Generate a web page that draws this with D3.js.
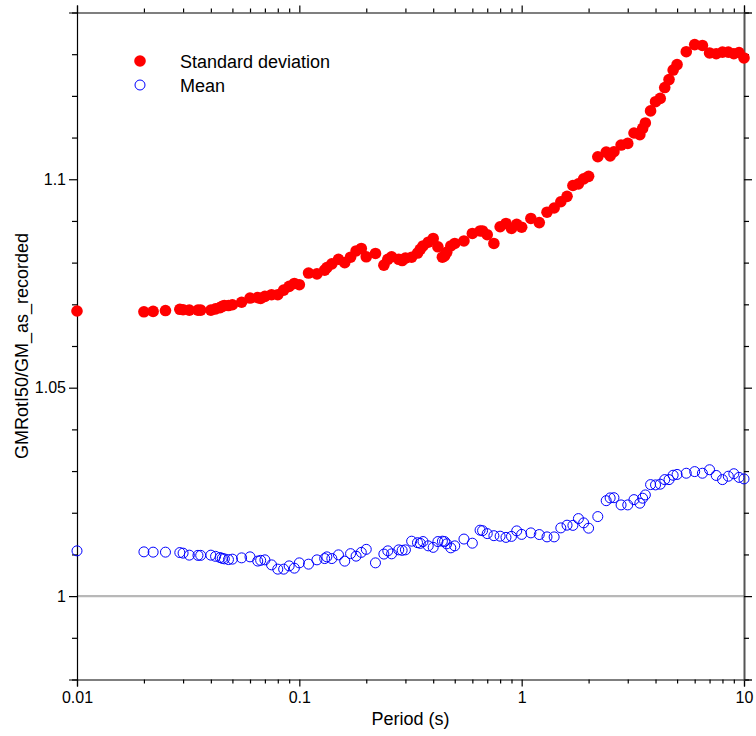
<!DOCTYPE html>
<html>
<head>
<meta charset="utf-8">
<script src="https://cdn.jsdelivr.net/npm/d3@7"></script>
<style>
  html, body { margin: 0; padding: 0; background: #fff; }
  svg { display: block; font-family: "Liberation Sans", Arial, Helvetica, sans-serif; }
</style>
</head>
<body>
<svg id="chart" width="756" height="736"></svg>
<script>
// Spectral periods (s)
const periods = [0.01, 0.02, 0.022, 0.025, 0.029, 0.03, 0.032, 0.035, 0.036, 0.04, 0.042, 0.044, 0.045, 0.046, 0.048, 0.05,
  0.055, 0.06, 0.065, 0.067, 0.07, 0.075, 0.08, 0.085, 0.09, 0.095, 0.1, 0.11, 0.12, 0.13, 0.133, 0.14, 0.15, 0.16, 0.17,
  0.18, 0.19, 0.2, 0.22, 0.24, 0.25, 0.26, 0.28, 0.29, 0.3, 0.32, 0.34, 0.35, 0.36, 0.38, 0.4, 0.42, 0.44, 0.45, 0.46,
  0.48, 0.5, 0.55, 0.6, 0.65, 0.667, 0.7, 0.75, 0.8, 0.85, 0.9, 0.95, 1, 1.1, 1.2, 1.3, 1.4, 1.5, 1.6, 1.7, 1.8, 1.9, 2,
  2.2, 2.4, 2.5, 2.6, 2.8, 3, 3.2, 3.4, 3.5, 3.6, 3.8, 4, 4.2, 4.4, 4.6, 4.8, 5, 5.5, 6, 6.5, 7, 7.5, 8, 8.5, 9, 9.5, 10];

// Standard deviation of the ratio at each period
const stdDev = [1.0684, 1.0682, 1.0683, 1.0685, 1.0688, 1.0687, 1.0686, 1.0686, 1.0686, 1.0686, 1.0689, 1.0692, 1.0695,
  1.0697, 1.0697, 1.0699, 1.0705, 1.0715, 1.0716, 1.0714, 1.0719, 1.0723, 1.0723, 1.0734, 1.0743, 1.0750, 1.0747,
  1.0775, 1.0773, 1.0782, 1.0788, 1.0797, 1.0808, 1.0800, 1.0813, 1.0828, 1.0834, 1.0814, 1.0822, 1.0794, 1.0808,
  1.0814, 1.0808, 1.0805, 1.0811, 1.0813, 1.0823, 1.0832, 1.0840, 1.0849, 1.0858, 1.0838, 1.0813, 1.0816, 1.0825,
  1.0840, 1.0846, 1.0852, 1.0870, 1.0876, 1.0876, 1.0867, 1.0846, 1.0886, 1.0894, 1.0882, 1.0892, 1.0885, 1.0906,
  1.0896, 1.0921, 1.0931, 1.0946, 1.0959, 1.0985, 1.0989, 1.1001, 1.1007, 1.1054, 1.1065, 1.1056, 1.1066, 1.1082,
  1.1086, 1.1111, 1.1107, 1.1122, 1.1135, 1.1164, 1.1186, 1.1194, 1.1220, 1.1239, 1.1262, 1.1275, 1.1306, 1.1323,
  1.1321, 1.1303, 1.1301, 1.1305, 1.1305, 1.1301, 1.1304, 1.1291];

// Mean of the ratio at each period
const meanVals = [1.01086, 1.01062, 1.01055, 1.01055, 1.01045, 1.01031, 1.00983, 1.00978, 1.00978, 1.00983, 1.00954,
  1.00925, 1.00906, 1.00894, 1.00877, 1.00887, 1.00918, 1.00942, 1.00841, 1.00858, 1.00870, 1.00750, 1.00647, 1.00647,
  1.00726, 1.00671, 1.00798, 1.00767, 1.00870, 1.00901, 1.00942, 1.00901, 1.00990, 1.00839, 1.01019, 1.00959, 1.01050,
  1.01122, 1.00798, 1.01009, 1.01086, 1.01014, 1.01110, 1.01098, 1.01110, 1.01318, 1.01282, 1.01266, 1.01309, 1.01206,
  1.01170, 1.01309, 1.01318, 1.01309, 1.01254, 1.01158, 1.01206, 1.01369, 1.01270, 1.01582, 1.01570, 1.01500, 1.01450,
  1.01438, 1.01409, 1.01433, 1.01565, 1.01481, 1.01517, 1.01477, 1.01421, 1.01421, 1.01637, 1.01702, 1.01697, 1.01860,
  1.01757, 1.01630, 1.01908, 1.02289, 1.02356, 1.02361, 1.02188, 1.02188, 1.02315, 1.02229, 1.02349, 1.02428, 1.02675,
  1.02668, 1.02685, 1.02795, 1.02795, 1.02900, 1.02919, 1.02948, 1.02987, 1.02948, 1.03032, 1.02895, 1.02795, 1.02876,
  1.02936, 1.02848, 1.02812];

// Axis ticks
const xMajorTicks = [0.01, 0.1, 1, 10];
const xTickLabels = ["0.01", "0.1", "1", "10"];
const xMinorTicks = [2, 3, 4, 5, 6, 7, 8, 9].flatMap(m => [0.01, 0.1, 1].map(d => +(m * d).toPrecision(3)));
const yMajorTicks = [1, 1.05, 1.1];
const yTickLabels = ["1", "1.05", "1.1"];
const yMinorTicks = [0.98, 0.99, 1.01, 1.02, 1.03, 1.04, 1.06, 1.07, 1.08, 1.09, 1.11, 1.12, 1.13, 1.14];

const seriesNames = ["Standard deviation", "Mean"];
const xTitle = "Period (s)";
const yTitle = "GMRotI50/GM_as_recorded";

const svg = d3.select("#chart");
const plotLeft = 77, plotRight = 744, plotTop = 12.5, plotBottom = 679.5;

const x = d3.scaleLog().domain([0.01, 10]).range([plotLeft, plotRight]);
const y = d3.scaleLinear().domain([0.98, 1.14]).range([plotBottom, plotTop]);

// Reference line at ratio = 1
svg.append("line")
  .attr("x1", plotLeft).attr("x2", plotRight)
  .attr("y1", y(1)).attr("y2", y(1))
  .attr("stroke", "#b8b8b8").attr("stroke-width", 2.2);

function styleAxis(g) {
  g.selectAll(".domain").attr("stroke", "#000").attr("stroke-width", 1.2);
  g.selectAll(".tick line").attr("stroke", "#000").attr("stroke-width", 1.2);
  g.selectAll("text").attr("fill", "#000").style("font-size", "16px")
    .style("font-family", "'Liberation Sans', Arial, Helvetica, sans-serif");
}

// Bottom axis
const gBottom = svg.append("g").attr("transform", `translate(0,${plotBottom})`);
gBottom.call(d3.axisBottom(x).tickValues(xMajorTicks).tickSize(7).tickPadding(5)
  .tickFormat((d, i) => xTickLabels[i]));
gBottom.append("g").call(d3.axisBottom(x).tickValues(xMinorTicks).tickSize(4).tickFormat(""))
  .select(".domain").remove();
styleAxis(gBottom);

// Top axis
const gTop = svg.append("g").attr("transform", `translate(0,${plotTop})`);
gTop.call(d3.axisTop(x).tickValues(xMajorTicks).tickSize(7).tickFormat(""));
gTop.append("g").call(d3.axisTop(x).tickValues(xMinorTicks).tickSize(4).tickFormat(""))
  .select(".domain").remove();
styleAxis(gTop);

// Left axis
const gLeft = svg.append("g").attr("transform", `translate(${plotLeft},0)`);
gLeft.call(d3.axisLeft(y).tickValues(yMajorTicks).tickSize(8).tickPadding(3)
  .tickFormat((d, i) => yTickLabels[i]));
gLeft.append("g").call(d3.axisLeft(y).tickValues(yMinorTicks).tickSize(5).tickFormat(""))
  .select(".domain").remove();
styleAxis(gLeft);

// Right axis
const gRight = svg.append("g").attr("transform", `translate(${plotRight},0)`);
gRight.call(d3.axisRight(y).tickValues(yMajorTicks).tickSize(8).tickFormat(""));
gRight.append("g").call(d3.axisRight(y).tickValues(yMinorTicks).tickSize(5).tickFormat(""))
  .select(".domain").remove();
styleAxis(gRight);
gRight.select(".domain").attr("stroke", "#555").attr("stroke-width", 2);

// Axis titles
svg.append("text")
  .attr("x", (plotLeft + plotRight) / 2).attr("y", 725)
  .attr("text-anchor", "middle")
  .style("font-size", "18px")
  .text(xTitle);

svg.append("text")
  .attr("transform", `translate(28,${(plotTop + plotBottom) / 2}) rotate(-90)`)
  .attr("text-anchor", "middle")
  .style("font-size", "18px")
  .text(yTitle);

// Mean markers (open blue circles)
svg.append("g").selectAll("circle")
  .data(periods.map((p, i) => [p, meanVals[i]]))
  .join("circle")
  .attr("cx", d => x(d[0])).attr("cy", d => y(d[1]))
  .attr("r", 5)
  .attr("fill", "none").attr("stroke", "#0000ff").attr("stroke-width", 1);

// Standard deviation markers (filled red circles)
svg.append("g").selectAll("circle")
  .data(periods.map((p, i) => [p, stdDev[i]]))
  .join("circle")
  .attr("cx", d => x(d[0])).attr("cy", d => y(d[1]))
  .attr("r", 5.8)
  .attr("fill", "#ff0000");

// Legend
const legend = svg.append("g");
legend.append("circle").attr("cx", 140).attr("cy", 61).attr("r", 5.8).attr("fill", "#ff0000");
legend.append("circle").attr("cx", 140).attr("cy", 85).attr("r", 5)
  .attr("fill", "none").attr("stroke", "#0000ff").attr("stroke-width", 1);
legend.append("text").attr("x", 180).attr("y", 67.5).style("font-size", "18px").text(seriesNames[0]);
legend.append("text").attr("x", 180).attr("y", 91.5).style("font-size", "18px").text(seriesNames[1]);
</script>
</body>
</html>
